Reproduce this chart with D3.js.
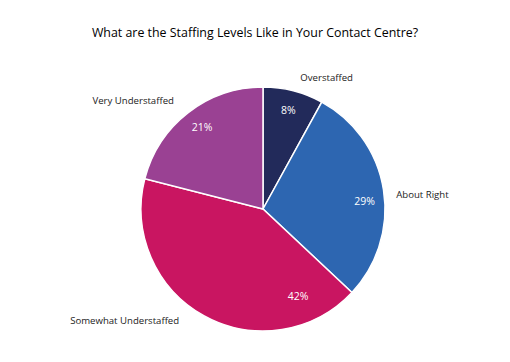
<!DOCTYPE html>
<meta charset="utf-8">
<head>
<title>Staffing Levels</title>
<script src="https://cdn.jsdelivr.net/npm/d3@7"></script>
<style>
  body { margin: 0; background: #fff; }
  text { font-family: "Open Sans", "Liberation Sans", sans-serif; }
  .title { font-size: 12.4px; fill: #000; text-anchor: middle; }
  .cat { font-size: 9.6px; fill: #222; }
  .pct { font-size: 10.5px; fill: #fff; text-anchor: middle; }
</style>
</head>
<body>
<div id="chart"></div>
<script>
// data
var categories = ["Overstaffed", "About Right", "Somewhat Understaffed", "Very Understaffed"];
var values = [8, 29, 42, 21];
var colors = ["#222a5a", "#2d66b1", "#c91561", "#9a4193"];

var width = 510, height = 362;
var cx = 263, cy = 209, radius = 122;

var svg = d3.select("#chart").append("svg")
    .attr("width", width)
    .attr("height", height);

svg.append("text")
    .attr("class", "title")
    .attr("x", 255)
    .attr("y", 37)
    .text("What are the Staffing Levels Like in Your Contact Centre?");

var pie = d3.pie().sort(null).value(function(d) { return d; });
var arcs = pie(values);

var arc = d3.arc().innerRadius(0).outerRadius(radius);

var g = svg.append("g").attr("transform", "translate(" + cx + "," + cy + ")");

g.selectAll("path")
    .data(arcs)
  .enter().append("path")
    .attr("d", arc)
    .attr("fill", function(d, i) { return colors[i]; })
    .attr("stroke", "#fff")
    .attr("stroke-width", 1.5);

// label tweaks (excel best fit moves a few labels)
var pctShift = [0, 0.08, -0.885, 0.02];   // radians added to mid angle
var pctR = [102, 102, 94, 102];
var catShift = [0.2, 0.05, 0.14, -0.03];
var catR = [146, 134, 140, 140];
var catAnchor = ["middle", "start", "end", "end"];

function mid(d) { return (d.startAngle + d.endAngle) / 2; }

g.selectAll(".pct")
    .data(arcs)
  .enter().append("text")
    .attr("class", "pct")
    .attr("x", function(d, i) { return Math.sin(mid(d) + pctShift[i]) * pctR[i]; })
    .attr("y", function(d, i) { return -Math.cos(mid(d) + pctShift[i]) * pctR[i]; })
    .attr("dy", "0.35em")
    .text(function(d) { return d.data + "%"; });

g.selectAll(".cat")
    .data(arcs)
  .enter().append("text")
    .attr("class", "cat")
    .attr("x", function(d, i) { return Math.sin(mid(d) + catShift[i]) * catR[i]; })
    .attr("y", function(d, i) { return -Math.cos(mid(d) + catShift[i]) * catR[i]; })
    .attr("dy", "0.35em")
    .attr("text-anchor", function(d, i) { return catAnchor[i]; })
    .text(function(d, i) { return categories[i]; });
</script>
</body>
